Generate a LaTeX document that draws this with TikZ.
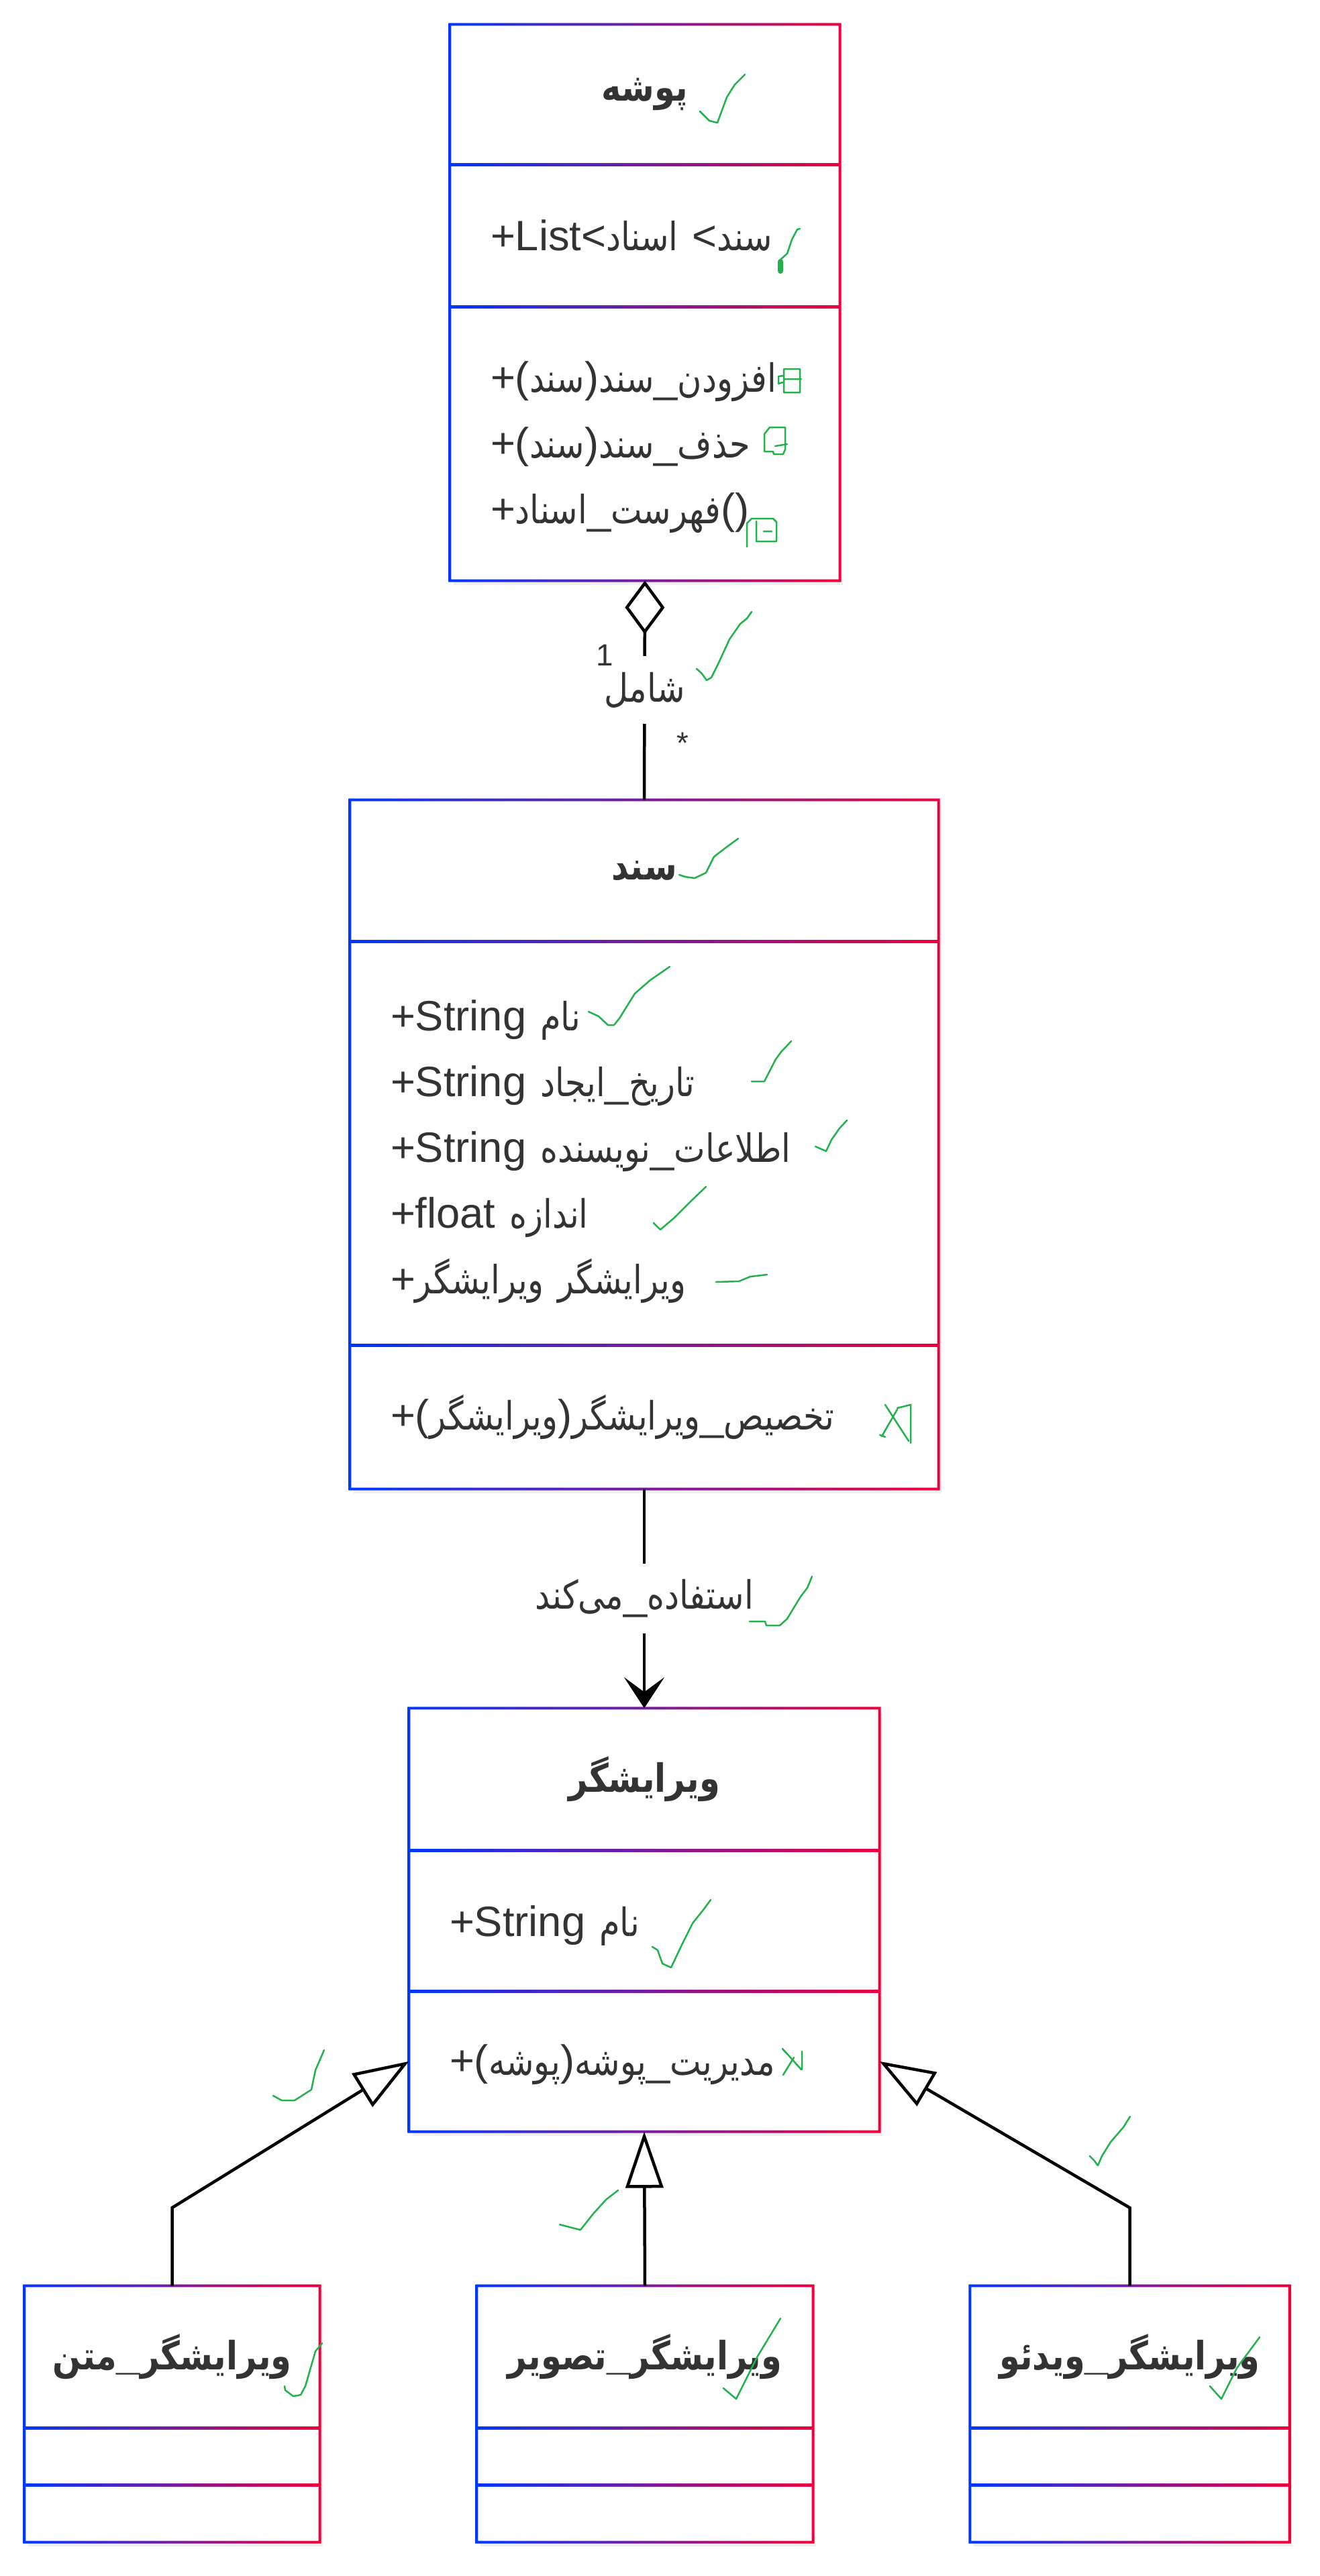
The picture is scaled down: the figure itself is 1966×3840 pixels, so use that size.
\documentclass[tikz,border=0pt]{standalone}
\usepackage{fontspec}
\setmainfont{Liberation Sans}
\newfontfamily\farsi[Script=Arabic, Scale=0.92, FakeStretch=0.85]{DejaVu Sans}
\TeXXeTstate=1
\usetikzlibrary{positioning,arrows.meta,shadows}
\definecolor{uBlue}{RGB}{0,55,255}
\definecolor{uRed}{RGB}{238,0,60}
\definecolor{ink}{RGB}{51,51,51}
\definecolor{tickgreen}{RGB}{34,177,76}
\newcommand{\fa}[1]{{\farsi\beginR #1\endR}}
\newcommand{\liftend}[1]{\endgraf\vspace*{-#1}}

\begin{document}
\begin{tikzpicture}[x=0.1mm, y=-0.1mm,
  compart/.style={rectangle, fill=white, inner sep=0pt, text=ink,
    font=\fontsize{18pt}{27.9pt}\selectfont,
    drop shadow={shadow xshift=0.5mm, shadow yshift=-0.7mm, opacity=0.12}},
  titlebox/.style={compart, align=center, font=\fontsize{18pt}{27.9pt}\selectfont\bfseries},
  listbox/.style={compart, align=left},
  nudge/.style={execute at end node={\liftend{#1}}},
  assoc/.style={draw=black, line width=0.45mm},
  lbl/.style={fill=white, text=ink, inner xsep=0.6mm, inner ysep=2.4mm, font=\fontsize{18pt}{22pt}\selectfont},
  mult/.style={text=ink, inner sep=0pt, font=\fontsize{13pt}{15pt}\selectfont},
  tick/.style={draw=tickgreen, line width=0.25mm, line cap=round, line join=round}]
\fill[white] (0,0) rectangle (1966,3840);
\useasboundingbox (0,0) rectangle (1966,3840);

% folder
\node[titlebox, minimum width=58mm, minimum height=20.8mm] (folderT) at (961,141) {\fa{پوشه}};
\node[listbox, minimum width=58mm, minimum height=21mm, text width=46mm, below=0pt of folderT] (folderA)
  {\mbox{+List<\fa{اسناد} <\fa{سند}}};
\node[listbox, nudge=1mm, minimum width=58mm, minimum height=40.7mm, text width=46mm, below=0pt of folderA] (folderM)
  {+(\fa{سند})\fa{سند}\_\fa{افزودن}\\
   +(\fa{سند})\fa{سند}\_\fa{حذف}\\
   +\fa{اسناد}\_\fa{فهرست}()};

% document
\node[titlebox, minimum width=87.6mm, minimum height=21mm] (docT) at (960,1298) {\fa{سند}};
\node[listbox, nudge=2.4mm, minimum width=87.6mm, minimum height=60mm, text width=75.6mm, below=0pt of docT] (docA)
  {+String \fa{نام}\\
   +String \fa{ایجاد}\_\fa{تاریخ}\\
   +String \fa{نویسنده}\_\fa{اطلاعات}\\
   +float \fa{اندازه}\\
   +\fa{ویرایشگر} \fa{ویرایشگر}};
\node[listbox, minimum width=87.6mm, minimum height=21.3mm, text width=75.6mm, below=0pt of docA] (docM)
  {+(\fa{ویرایشگر})\fa{ویرایشگر}\_\fa{تخصیص}};

% editor
\node[titlebox, minimum width=70mm, minimum height=21.1mm] (edT) at (960,2652.5) {\fa{ویرایشگر}};
\node[listbox, nudge=1.4mm, minimum width=70mm, minimum height=20.8mm, text width=58mm, below=0pt of edT] (edA)
  {+String \fa{نام}};
\node[listbox, nudge=1mm, minimum width=70mm, minimum height=20.8mm, text width=58mm, below=0pt of edA] (edM)
  {+(\fa{پوشه})\fa{پوشه}\_\fa{مدیریت}};

% subclasses
\foreach \n/\x/\w/\word in {txt/256.5/43.9/متن, img/961/50/تصویر, vid/1683.5/47.5/ویدئو} {
  \node[titlebox, minimum width=\w mm, minimum height=21.1mm] (\n T) at (\x,3513.5) {\fa{\word}\_\fa{ویرایشگر}};
  \node[compart, minimum width=\w mm, minimum height=8.3mm, below=0pt of \n T] (\n A) {};
  \node[compart, minimum width=\w mm, minimum height=8.4mm, below=0pt of \n A] (\n M) {};
}

% gradient borders
\foreach \t/\b in {folderT/folderM, docT/docM, edT/edM, txtT/txtM, imgT/imgM, vidT/vidM}
  \shade[left color=uBlue, right color=uRed, even odd rule]
    ([xshift=-0.2mm, yshift=0.2mm]\t.north west) rectangle ([xshift=0.2mm, yshift=-0.2mm]\b.south east)
    ([xshift=0.2mm, yshift=-0.2mm]\t.north west) rectangle ([xshift=-0.2mm, yshift=0.2mm]\b.south east);
\foreach \c in {folderA, folderM, docA, docM, edA, edM, txtA, txtM, imgA, imgM, vidA, vidM}
  \shade[left color=uBlue, right color=uRed] ([yshift=0.2mm]\c.north west) rectangle ([yshift=-0.2mm]\c.north east);

% relations
\draw[assoc, {Diamond[open, length=8mm, width=5.9mm]}-] (folderM.south) -- (docT.north)
  node[lbl, midway] {\fa{شامل}}
  node[mult, pos=0.34, left=4.5mm] {1}
  node[mult, pos=0.74, right=4.6mm] {*};
\draw[assoc, -{Stealth[length=4.6mm, width=6mm, inset=2.2mm]}] (docM.south) -- (edT.north)
  node[lbl, midway] {\fa{می^^^^200cکند}\_\fa{استفاده}};
\coordinate (fork) at (960,3291);
\draw[assoc, -{Triangle[open, length=8.2mm, width=5.8mm]}] (txtT.north) -- (txtT.north |- fork) -- (edM.west);
\draw[assoc, -{Triangle[open, length=8.4mm, width=5.6mm]}] (imgT.north) -- (edM.south);
\draw[assoc, -{Triangle[open, length=8.2mm, width=5.8mm]}] (vidT.north) -- (vidT.north |- fork) -- (edM.east);

% green marks
\draw[tick] (1043,166) -- (1057,180) -- (1069,183) -- (1083,145) -- (1095,126) -- (1110,111);
\draw[tick] (1163,405) -- (1163,387) -- (1173,378) -- (1180,357) -- (1188,342) -- (1192,341);
\draw[tick, line width=0.8mm] (1163,404) -- (1163,390);
\draw[tick] (1168,550) rectangle (1192,585) (1168,565) -- (1194,565) (1168,560) -- (1160,561) -- (1160,572) -- (1166,570);
\draw[tick] (1147,637) -- (1170,637) -- (1170,670) -- (1167,677) -- (1153,677) -- (1152,673) -- (1139,673) -- (1139,647) -- cycle
  (1155,665) -- (1173,662);
\draw[tick] (1113,815) -- (1113,780) -- (1120,773) -- (1152,773) -- (1157,778) -- (1157,807) -- (1127,807) -- (1127,777)
  (1138,792) -- (1150,792);
\draw[tick] (1038,997) -- (1045,1003) -- (1053,1014) -- (1060,1010) -- (1070,990) -- (1087,953) -- (1103,930) -- (1113,922) -- (1120,912);
\draw[tick] (1012,1304) -- (1021,1307) -- (1035,1309) -- (1052,1301) -- (1064,1277) -- (1081,1264) -- (1100,1250);
\draw[tick] (877,1508) -- (892,1515) -- (906,1528) -- (915,1528) -- (923,1518) -- (946,1481) -- (969,1461) -- (998,1441);
\draw[tick] (1120,1612) -- (1139,1612) -- (1156,1579) -- (1164,1568) -- (1179,1552);
\draw[tick] (1215,1709) -- (1231,1716) -- (1239,1699) -- (1251,1682) -- (1262,1670);
\draw[tick] (974,1823) -- (984,1833) -- (1004,1816) -- (1027,1793) -- (1052,1769);
\draw[tick] (1067,1911) -- (1101,1910) -- (1118,1903) -- (1143,1900);
\draw[tick] (1319,2094) -- (1354,2148) (1314,2141) -- (1337,2101) (1337,2099) -- (1357,2094) -- (1357,2151) (1311,2139) -- (1319,2142);
\draw[tick] (1117,2417) -- (1140,2417) -- (1142,2423) -- (1162,2423) -- (1173,2413) -- (1193,2380) -- (1203,2367) -- (1210,2350);
\draw[tick] (972,2902) -- (980,2907) -- (987,2927) -- (1000,2933) -- (1017,2897) -- (1032,2867) -- (1048,2847) -- (1059,2832);
\draw[tick] (1168,3056) -- (1194,3085) (1167,3093) -- (1183,3067) (1195,3058) -- (1195,3085) (1166,3054) -- (1171,3060);
\draw[tick] (483,3056) -- (470,3086) -- (464,3115) -- (439,3131) -- (420,3131) -- (407,3124);
\draw[tick] (921,3265) -- (903,3279) -- (884,3300) -- (865,3324) -- (853,3321) -- (834,3316);
\draw[tick] (1684,3155) -- (1674,3171) -- (1655,3193) -- (1642,3214) -- (1636,3228) -- (1630,3220) -- (1624,3214);
\draw[tick] (480,3493) -- (470,3505) -- (455,3557) -- (448,3570) -- (437,3572) -- (425,3563) -- (424,3557);
\draw[tick] (1163,3456) -- (1128,3514) -- (1097,3576) -- (1078,3560);
\draw[tick] (1877,3484) -- (1843,3530) -- (1820,3576) -- (1803,3557);
\end{tikzpicture}
\end{document}
